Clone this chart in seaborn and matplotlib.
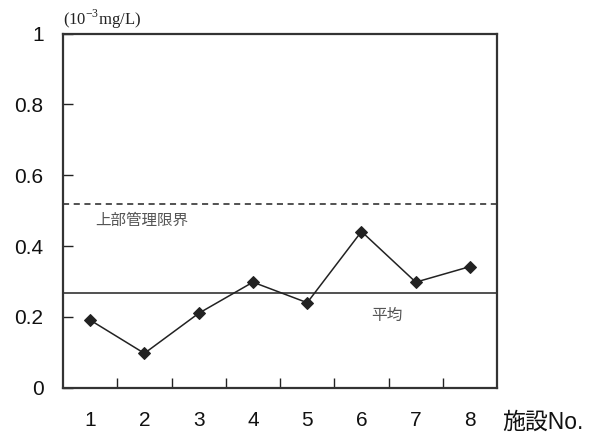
import matplotlib
matplotlib.use("Agg")
import matplotlib.pyplot as plt
import seaborn as sns
import pandas as pd

# Facility measurements (10^-3 mg/L)
facilities = ["1", "2", "3", "4", "5", "6", "7", "8"]
values = [0.191, 0.097, 0.210, 0.298, 0.240, 0.441, 0.298, 0.342]
mean_value = 0.267
upper_limit = 0.520
y_ticks = [0, 0.2, 0.4, 0.6, 0.8, 1]
y_tick_labels = ["0", "0.2", "0.4", "0.6", "0.8", "1"]

sns.set_style("white")
plt.rcParams["font.family"] = ["Liberation Sans", "Noto Sans CJK JP", "DejaVu Sans"]

df = pd.DataFrame({"facility": facilities, "value": values})
df["pos"] = range(len(df))

fig = plt.figure(figsize=(5.94, 4.37), dpi=100)
ax = fig.add_axes([0.106, 0.1128, 0.731, 0.8105])

ink = "#222222"
sns.lineplot(data=df, x="pos", y="value", ax=ax, color=ink, linewidth=1.1,
             marker="D", markersize=6.5, markeredgecolor=ink, markerfacecolor=ink)

ax.axhline(mean_value, color=ink, linewidth=1.1)
ax.axhline(upper_limit, color=ink, linewidth=1.1, linestyle=(0, (4, 3)))

ax.set_xlim(-0.5, len(facilities) - 0.5)
ax.set_ylim(0, 1)

# labels at category centres, tick marks on the boundaries between them
ax.set_xticks(range(len(facilities)))
ax.set_xticklabels(facilities, fontsize=15, color="#111111")
ax.set_xticks([i + 0.5 for i in range(len(facilities) - 1)], minor=True)
ax.tick_params(axis="x", which="major", length=0, pad=17)
ax.tick_params(axis="x", which="minor", direction="in", length=7, width=1,
               color=ink, bottom=True)

ax.set_yticks(y_ticks)
ax.set_yticklabels(y_tick_labels, fontsize=15, color="#111111")
ax.tick_params(axis="y", direction="in", length=7, width=1, color=ink, left=True, pad=14)

for s in ax.spines.values():
    s.set_visible(True)
    s.set_color("#333333")
    s.set_linewidth(1.6)

ax.set_xlabel("")
ax.set_ylabel("")

fig.text(502 / 594, 1 - 422 / 437, "施設No.", ha="left", va="center", fontsize=16.5,
         color="#111111")
fig.text(95 / 594, 1 - 220 / 437, "上部管理限界", ha="left", va="center", fontsize=11.2,
         family=["Noto Sans CJK JP"], color="#555555")
fig.text(371 / 594, 1 - 315 / 437, "平均", ha="left", va="center", fontsize=11.3,
         family=["Noto Sans CJK JP"], color="#555555")
fig.text(63 / 594, 1 - 19 / 437, r"(10$^{\mathregular{-3}}$mg/L)", ha="left", va="center",
         fontsize=12, family=["Liberation Serif"], color="#222222")

fig.savefig("out.png", dpi=100)
